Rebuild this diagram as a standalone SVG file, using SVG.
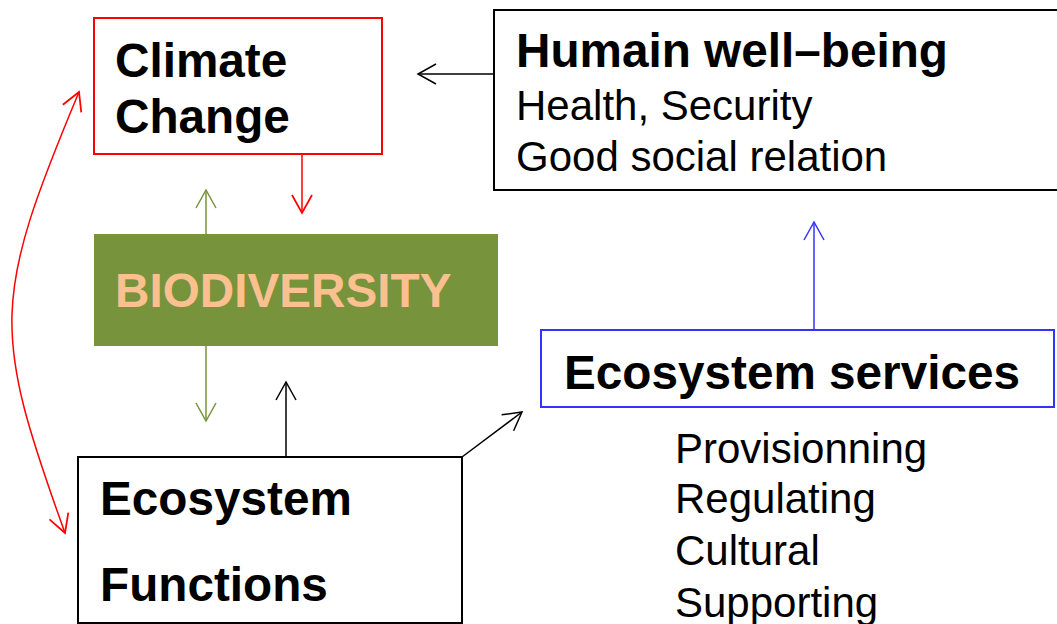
<svg xmlns="http://www.w3.org/2000/svg" width="1057" height="624" viewBox="0 0 1057 624">
  <style>
    .bold { font-family: "Liberation Sans", Arial, sans-serif; font-weight: bold; font-size: 47.7px; fill: #000; }
    .reg { font-family: "Liberation Sans", Arial, sans-serif; font-size: 42px; fill: #000; }
    .box { fill: #fff; stroke-width: 2; }
    .conn { fill: none; stroke-width: 1.5; }
  </style>
  <defs>
    <marker id="ah-black" markerUnits="userSpaceOnUse" markerWidth="22" markerHeight="24" viewBox="-1 -12 22 24" refX="18" refY="0" orient="auto-start-reverse">
      <path d="M0,-10 L18,0 L0,10" fill="none" stroke="#000" stroke-width="1.5"/>
    </marker>
    <marker id="ah-red" markerUnits="userSpaceOnUse" markerWidth="22" markerHeight="24" viewBox="-1 -12 22 24" refX="18" refY="0" orient="auto-start-reverse">
      <path d="M0,-10 L18,0 L0,10" fill="none" stroke="#FF0000" stroke-width="1.75"/>
    </marker>
    <marker id="ah-green" markerUnits="userSpaceOnUse" markerWidth="22" markerHeight="24" viewBox="-1 -12 22 24" refX="18" refY="0" orient="auto-start-reverse">
      <path d="M0,-10 L18,0 L0,10" fill="none" stroke="#77933C" stroke-width="1.5"/>
    </marker>
    <marker id="ah-blue" markerUnits="userSpaceOnUse" markerWidth="22" markerHeight="24" viewBox="-1 -12 22 24" refX="18" refY="0" orient="auto-start-reverse">
      <path d="M0,-10 L18,0 L0,10" fill="none" stroke="#3333FF" stroke-width="1.5"/>
    </marker>
  </defs>
  <rect width="1057" height="624" fill="#fff"/>

  <g id="connectors">
    <path class="conn" stroke="#000" d="M494,74 L418,74" marker-end="url(#ah-black)"/>
    <path class="conn" stroke="#FF0000" d="M302,154 L302,213" marker-end="url(#ah-red)"/>
    <path class="conn" stroke="#77933C" d="M206,234 L206,190" marker-end="url(#ah-green)"/>
    <path class="conn" stroke="#77933C" d="M206,346 L206,421" marker-end="url(#ah-green)"/>
    <path class="conn" stroke="#000" d="M286,457 L286,382" marker-end="url(#ah-black)"/>
    <path class="conn" stroke="#000" d="M462,457 L522,412" marker-end="url(#ah-black)"/>
    <path class="conn" stroke="#3333FF" d="M814,330 L814,222" marker-end="url(#ah-blue)"/>
    <path class="conn" stroke="#FF0000" stroke-width="1.75" d="M79,92 C-8,300 -8,330 65,533" marker-start="url(#ah-red)" marker-end="url(#ah-red)"/>
  </g>

  <g id="climate-change">
    <rect class="box" x="94" y="18" width="288" height="136" stroke="#FF0000"/>
    <text class="bold" x="115" y="77">Climate</text>
    <text class="bold" x="115" y="133">Change</text>
  </g>

  <g id="human-well-being">
    <rect class="box" x="494" y="10" width="580" height="180" stroke="#000"/>
    <text class="bold" x="516" y="67">Humain well–being</text>
    <text class="reg" x="516" y="120">Health, Security</text>
    <text class="reg" x="516" y="171">Good social relation</text>
  </g>

  <g id="biodiversity">
    <rect x="94" y="234" width="404" height="112" fill="#77933C"/>
    <text class="bold" x="115" y="307" style="fill:#FAC090">BIODIVERSITY</text>
  </g>

  <g id="ecosystem-functions">
    <rect class="box" x="78" y="457" width="384" height="166" stroke="#000"/>
    <text class="bold" x="100" y="515">Ecosystem</text>
    <text class="bold" x="100" y="601">Functions</text>
  </g>

  <g id="ecosystem-services">
    <rect class="box" x="541" y="330" width="513" height="77" stroke="#3333FF"/>
    <text class="bold" x="564" y="389">Ecosystem services</text>
  </g>

  <g id="service-list">
    <text class="reg" x="675" y="463">Provisionning</text>
    <text class="reg" x="675" y="513">Regulating</text>
    <text class="reg" x="675" y="565">Cultural</text>
    <text class="reg" x="675" y="617">Supporting</text>
  </g>
</svg>
